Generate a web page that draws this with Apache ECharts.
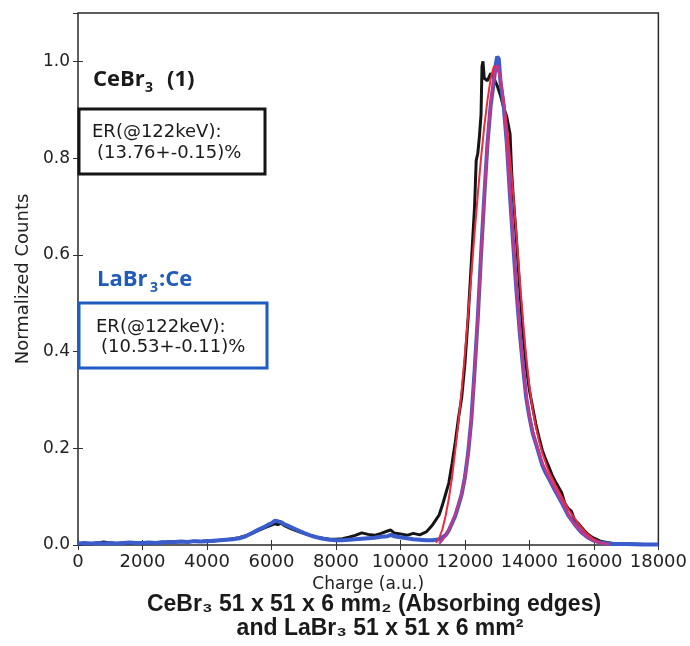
<!DOCTYPE html>
<html><head><meta charset="utf-8">
<script src="https://cdn.jsdelivr.net/npm/echarts@6/dist/echarts.min.js"></script>
<style>html,body{margin:0;padding:0;background:#fff}#c{width:690px;height:646px}</style>
</head><body><div id="c"></div>
<script>
// ---- data (Charge a.u., Normalized Counts) ----
const xTickValues = [0,2000,4000,6000,8000,10000,12000,14000,16000,18000];
const yTickLabels = ['0.0','0.2','0.4','0.6','0.8','1.0'];

const cebrData = [
[0,0.002],[200,0.003],[400,0.002],[600,0.004],[800,0.006],[1000,0.004],[1200,0.003],[1400,0.004],[1600,0.003],[1800,0.005],[2000,0.004],[2200,0.005],[2400,0.004],[2600,0.006],[2800,0.005],[3000,0.006],[3200,0.007],[3400,0.006],[3600,0.008],[3800,0.007],[4000,0.009],[4200,0.008],[4400,0.010],[4600,0.011],[4800,0.013],[5000,0.015],[5200,0.019],[5400,0.024],[5600,0.030],[5800,0.036],[6000,0.041],[6100,0.044],[6200,0.042],[6300,0.045],[6400,0.040],[6600,0.034],[6800,0.029],[7000,0.024],[7200,0.020],[7400,0.016],[7600,0.014],[7800,0.012],[8000,0.012],[8200,0.013],[8400,0.016],[8600,0.020],[8800,0.025],[9000,0.022],[9200,0.020],[9400,0.024],[9600,0.029],[9700,0.031],[9800,0.025],[10000,0.023],[10200,0.020],[10400,0.024],[10600,0.021],[10800,0.027],[10900,0.034],[11000,0.042],[11100,0.052],[11200,0.062],[11300,0.082],[11400,0.105],[11500,0.128],[11600,0.168],[11700,0.212],[11800,0.262],[11900,0.305],[12000,0.375],[12100,0.470],[12200,0.585],[12300,0.700],[12350,0.795],[12400,0.810],[12450,0.845],[12500,0.890],[12530,0.990],[12560,1.000],[12600,0.965],[12700,0.960],[12800,0.975],[12900,0.965],[13000,0.950],[13100,0.930],[13200,0.905],[13300,0.885],[13400,0.850],[13450,0.770],[13500,0.720],[13600,0.630],[13700,0.530],[13800,0.440],[13900,0.370],[14000,0.320],[14100,0.285],[14200,0.250],[14300,0.222],[14400,0.196],[14500,0.178],[14600,0.162],[14700,0.145],[14800,0.132],[14900,0.120],[15000,0.108],[15100,0.086],[15200,0.076],[15300,0.070],[15400,0.052],[15500,0.046],[15600,0.038],[15700,0.030],[15800,0.023],[15900,0.018],[16000,0.014],[16200,0.008],[16400,0.005],[16600,0.003],[16800,0.002],[17200,0.002],[17600,0.001],[18000,0.001]
];

const labrData = [
[0,0.003],[200,0.004],[400,0.003],[600,0.004],[800,0.003],[1000,0.004],[1200,0.003],[1400,0.004],[1600,0.005],[1800,0.004],[2000,0.004],[2200,0.005],[2400,0.004],[2600,0.005],[2800,0.006],[3000,0.006],[3200,0.007],[3400,0.006],[3600,0.008],[3800,0.007],[4000,0.008],[4200,0.009],[4400,0.010],[4600,0.011],[4800,0.012],[5000,0.014],[5200,0.018],[5400,0.025],[5600,0.032],[5800,0.038],[5900,0.042],[6000,0.045],[6100,0.050],[6150,0.053],[6200,0.049],[6300,0.047],[6400,0.043],[6500,0.040],[6600,0.037],[6800,0.031],[7000,0.025],[7200,0.020],[7400,0.016],[7600,0.013],[7800,0.011],[8000,0.010],[8200,0.010],[8400,0.011],[8600,0.012],[8800,0.013],[9000,0.014],[9200,0.015],[9400,0.017],[9600,0.018],[9700,0.021],[9800,0.018],[10000,0.016],[10200,0.014],[10400,0.012],[10600,0.011],[10800,0.010],[11000,0.010],[11200,0.012],[11400,0.020],[11500,0.030],[11600,0.045],[11700,0.060],[11800,0.082],[11900,0.105],[12000,0.140],[12100,0.190],[12200,0.260],[12300,0.360],[12400,0.470],[12500,0.600],[12600,0.720],[12700,0.830],[12800,0.910],[12900,0.960],[12950,0.990],[13000,1.010],[13050,1.005],[13100,0.960],[13200,0.910],[13300,0.830],[13400,0.720],[13500,0.620],[13600,0.525],[13700,0.440],[13800,0.370],[13900,0.305],[14000,0.265],[14100,0.232],[14200,0.210],[14300,0.188],[14400,0.165],[14500,0.150],[14600,0.138],[14700,0.125],[14800,0.112],[15000,0.088],[15200,0.062],[15400,0.043],[15600,0.027],[15800,0.016],[16000,0.009],[16200,0.005],[16400,0.003],[16600,0.002],[17000,0.002],[17500,0.001],[18000,0.001]
];

const cebrFit = [
[11100,0.005],[11200,0.014],[11300,0.032],[11400,0.060],[11500,0.095],[11600,0.140],[11700,0.195],[11800,0.255],[11900,0.320],[12000,0.395],[12100,0.475],[12200,0.560],[12300,0.645],[12400,0.725],[12500,0.800],[12600,0.865],[12700,0.920],[12800,0.965],[12900,0.990],[12950,0.993],[13000,0.988],[13100,0.962],[13200,0.922],[13300,0.868],[13400,0.800],[13500,0.725],[13600,0.640],[13700,0.550],[13800,0.465],[13900,0.390],[14000,0.328],[14100,0.280],[14200,0.245],[14300,0.215],[14400,0.190],[14600,0.152],[14800,0.125],[15000,0.100],[15200,0.075],[15400,0.055],[15600,0.037],[15800,0.022],[16000,0.012],[16200,0.005],[16400,0.002]
];

const labrFit = [
[11200,0.003],[11300,0.010],[11400,0.020],[11500,0.032],[11600,0.047],[11700,0.064],[11800,0.084],[11900,0.108],[12000,0.140],[12100,0.190],[12200,0.260],[12300,0.358],[12400,0.470],[12500,0.600],[12600,0.720],[12700,0.830],[12800,0.915],[12900,0.970],[13000,0.992],[13100,0.970],[13200,0.915],[13300,0.830],[13400,0.720],[13500,0.620],[13600,0.528],[13700,0.442],[13800,0.370],[13900,0.310],[14000,0.265],[14100,0.235],[14200,0.210],[14300,0.190],[14400,0.170],[14600,0.140],[14800,0.115],[15000,0.090],[15200,0.063],[15400,0.042],[15600,0.028],[15800,0.016],[16000,0.008],[16200,0.004],[16500,0.001]
];

const tickFont = 'DejaVu Sans';
const chart = echarts.init(document.getElementById('c'), null, {renderer:'canvas'});
const axisCommon = {
  type:'value', min:0,
  splitLine:{show:false},
  axisLine:{show:false},
  axisTick:{show:true, inside:true, length:5, lineStyle:{color:'#333', width:1}}
};
chart.setOption({
  animation:false,
  backgroundColor:'#fff',
  grid:{left:78, right:31, top:13, bottom:101, show:true, borderColor:'#2a2a2a', borderWidth:1.5, backgroundColor:'transparent'},
  xAxis:[
    Object.assign({}, axisCommon, {position:'bottom', max:18000, interval:2000,
      name:'Charge (a.u.)', nameLocation:'middle', nameGap:27,
      nameTextStyle:{fontFamily:tickFont, fontSize:17, color:'#222'},
      axisLabel:{fontFamily:tickFont, fontSize:18, color:'#222', margin:8,
        formatter:(v)=> xTickValues.indexOf(v) >= 0 ? String(v) : ''}}),
    Object.assign({}, axisCommon, {position:'top', max:18000, interval:2000, axisLabel:{show:false}})
  ],
  yAxis:[
    Object.assign({}, axisCommon, {position:'left', max:1.1, interval:0.2,
      name:'Normalized Counts', nameLocation:'middle', nameGap:42,
      nameTextStyle:{fontFamily:tickFont, fontSize:18, color:'#222'},
      axisLabel:{fontFamily:tickFont, fontSize:17, color:'#222', margin:8, showMaxLabel:false,
        formatter:(v)=>{const i=Math.round(v/0.2); return (Math.abs(v-i*0.2)<1e-6 && yTickLabels[i]) ? yTickLabels[i] : '';}}}),
    Object.assign({}, axisCommon, {position:'right', max:1.1, interval:0.2, axisLabel:{show:false}})
  ],
  series:[
    {type:'line', name:'CeBr3', data:cebrData, showSymbol:false, lineStyle:{color:'#151515', width:3}, z:2},
    {type:'line', name:'LaBr3:Ce', data:labrData, showSymbol:false, lineStyle:{color:'#3a5ccc', width:4}, z:3},
    {type:'line', name:'CeBr3 fit', data:cebrFit, showSymbol:false, lineStyle:{color:'#ee2a3c', width:2}, z:4},
    {type:'line', name:'LaBr3 fit', data:labrFit, showSymbol:false, lineStyle:{color:'#c2378c', width:2.5}, z:5}
  ],
  graphic:[
    {type:'text', x:93, y:80, z:100, style:{text:'CeBr', fill:'#1a1a1a', font:'bold 22px "Open Sans"', textVerticalAlign:'middle', verticalAlign:'middle'}},
    {type:'text', x:145, y:88, z:100, style:{text:'3', fill:'#1a1a1a', font:'bold 14px "Open Sans"', textVerticalAlign:'middle', verticalAlign:'middle'}},
    {type:'text', x:167, y:80, z:100, style:{text:'(1)', fill:'#1a1a1a', font:'bold 22px "Open Sans"', textVerticalAlign:'middle', verticalAlign:'middle'}},
    {type:'rect', z:90, shape:{x:79, y:109, width:186, height:65}, style:{fill:'#fff', stroke:'#151515', lineWidth:3}},
    {type:'text', x:92, y:132, z:100, style:{text:'ER(@122keV):', fill:'#1a1a1a', font:'18px "DejaVu Sans"', textVerticalAlign:'middle', verticalAlign:'middle'}},
    {type:'text', x:97, y:153, z:100, style:{text:'(13.76+-0.15)%', fill:'#1a1a1a', font:'18px "DejaVu Sans"', textVerticalAlign:'middle', verticalAlign:'middle'}},
    {type:'text', x:97, y:280, z:100, style:{text:'LaBr', fill:'#1f5bb8', font:'bold 22px "Open Sans"', textVerticalAlign:'middle', verticalAlign:'middle'}},
    {type:'text', x:150, y:288, z:100, style:{text:'3', fill:'#1f5bb8', font:'bold 14px "Open Sans"', textVerticalAlign:'middle', verticalAlign:'middle'}},
    {type:'text', x:159, y:280, z:100, style:{text:':Ce', fill:'#1f5bb8', font:'bold 22px "Open Sans"', textVerticalAlign:'middle', verticalAlign:'middle'}},
    {type:'rect', z:90, shape:{x:79, y:303, width:188, height:65}, style:{fill:'#fff', stroke:'#1f5cc0', lineWidth:3}},
    {type:'text', x:96, y:327, z:100, style:{text:'ER(@122keV):', fill:'#1a1a1a', font:'18px "DejaVu Sans"', textVerticalAlign:'middle', verticalAlign:'middle'}},
    {type:'text', x:101, y:347, z:100, style:{text:'(10.53+-0.11)%', fill:'#1a1a1a', font:'18px "DejaVu Sans"', textVerticalAlign:'middle', verticalAlign:'middle'}},
    {type:'text', x:374, y:605, z:100, style:{text:'CeBr\u2083 51 x 51 x 6 mm\u2082 (Absorbing edges)', fill:'#1a1a1a', font:'bold 23px "Liberation Sans"', textAlign:'center', align:'center', textVerticalAlign:'middle', verticalAlign:'middle'}},
    {type:'text', x:380, y:629, z:100, style:{text:'and LaBr\u2083 51 x 51 x 6 mm\u00b2', fill:'#1a1a1a', font:'bold 23px "Liberation Sans"', textAlign:'center', align:'center', textVerticalAlign:'middle', verticalAlign:'middle'}}
  ]
});
</script>
</body></html>
